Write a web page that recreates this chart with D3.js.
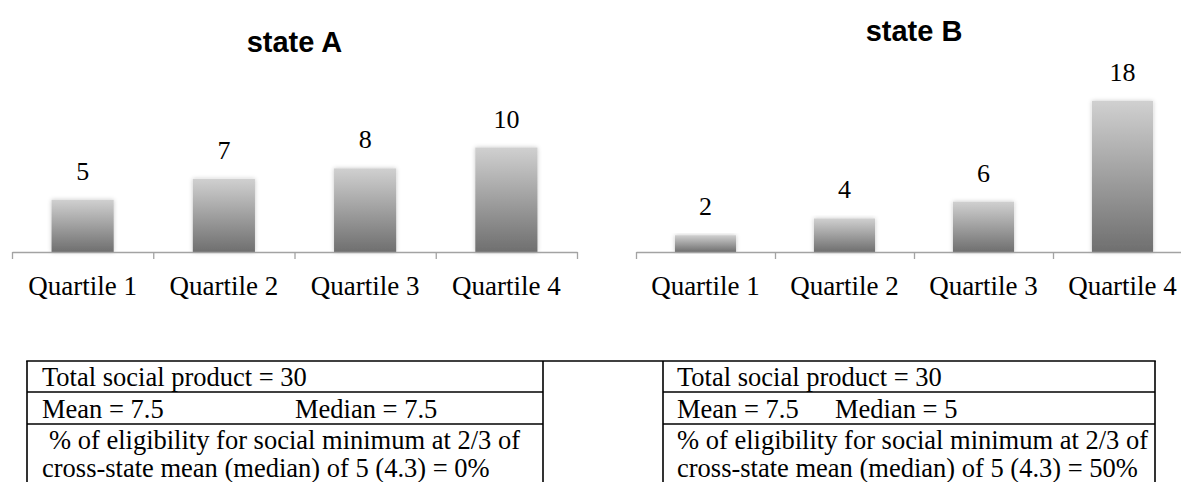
<!DOCTYPE html>
<html>
<head>
<meta charset="utf-8">
<script src="https://cdn.jsdelivr.net/npm/d3@7"></script>
<style>
  html, body { margin: 0; padding: 0; background: #fff; }
  svg { display: block; }
</style>
</head>
<body>
<svg id="chart" width="1181" height="482"></svg>
<script>
// ---- data ----
const categories = ["Quartile 1", "Quartile 2", "Quartile 3", "Quartile 4"];
const stateAValues = [5, 7, 8, 10];
const stateBValues = [2, 4, 6, 18];
const chartTitles = ["state A", "state B"];
const tableA = {
  total: "Total social product = 30",
  mean: "Mean = 7.5",
  median: "Median = 7.5",
  line1: "% of eligibility for social minimum at 2/3 of",
  line2: "cross-state mean (median) of 5 (4.3) = 0%"
};
const tableB = {
  total: "Total social product = 30",
  mean: "Mean = 7.5",
  median: "Median = 5",
  line1: "% of eligibility for social minimum at 2/3 of",
  line2: "cross-state mean (median) of 5 (4.3) = 50%"
};

const svg = d3.select("#chart");
const defs = svg.append("defs");
const grad = defs.append("linearGradient")
  .attr("id", "barGrad").attr("x1", 0).attr("y1", 0).attr("x2", 0).attr("y2", 1);
grad.append("stop").attr("offset", "0%").attr("stop-color", "#d0d0d0");
grad.append("stop").attr("offset", "100%").attr("stop-color", "#6f6f6f");
const filt = defs.append("filter").attr("id", "shadow")
  .attr("x", "-30%").attr("y", "-10%").attr("width", "160%").attr("height", "120%");
filt.append("feDropShadow").attr("dx", 0).attr("dy", 0).attr("stdDeviation", 2.2)
  .attr("flood-color", "#000").attr("flood-opacity", 0.22);

const serif = "Liberation Serif";
const sans = "Liberation Sans";
const baseY = 252;

function drawChart(values, xRange, yTop, yMax, title, titleY) {
  const x = d3.scaleBand().domain(categories).range(xRange)
    .paddingInner(0.56).paddingOuter(0.28);
  const y = d3.scaleLinear().domain([0, yMax]).range([baseY, yTop]);
  const g = svg.append("g");

  // bars
  g.selectAll("rect.bar").data(values).enter().append("rect")
    .attr("class", "bar")
    .attr("x", (d, i) => x(categories[i]))
    .attr("width", x.bandwidth())
    .attr("y", d => y(d))
    .attr("height", d => baseY - y(d))
    .attr("fill", "url(#barGrad)")
    .attr("filter", "url(#shadow)");

  // value labels
  g.selectAll("text.val").data(values).enter().append("text")
    .attr("class", "val")
    .attr("x", (d, i) => x(categories[i]) + x.bandwidth() / 2)
    .attr("y", d => y(d) - 20)
    .attr("text-anchor", "middle")
    .attr("font-family", serif).attr("font-size", 26).attr("fill", "#000")
    .text(d => d);

  // axis line with boundary ticks
  const idx = d3.scaleLinear().domain([0, categories.length]).range(xRange);
  const axisG = g.append("g").attr("transform", `translate(0,${baseY})`)
    .call(d3.axisBottom(idx).tickValues(d3.range(categories.length + 1))
      .tickSize(7).tickSizeOuter(0).tickFormat(""));
  axisG.select(".domain").attr("stroke", "#a3a3a3").attr("stroke-width", 1.6);
  axisG.selectAll(".tick line").attr("stroke", "#a3a3a3").attr("stroke-width", 1.3);

  // category labels
  const labG = g.append("g").attr("transform", `translate(0,${baseY})`)
    .call(d3.axisBottom(x).tickSize(0).tickPadding(0));
  labG.attr("font-family", serif).attr("font-size", 27);
  labG.select(".domain").remove();
  labG.selectAll(".tick text")
    .attr("y", 43).attr("dy", null)
    .attr("font-family", serif).attr("font-size", 27).attr("fill", "#000");

  // title
  g.append("text")
    .attr("x", (xRange[0] + xRange[1]) / 2)
    .attr("y", titleY)
    .attr("text-anchor", "middle")
    .attr("font-family", sans).attr("font-weight", "bold").attr("font-size", 29)
    .attr("fill", "#000")
    .text(title);
}

drawChart(stateAValues, [12, 577], 147.5, 10, chartTitles[0], 52);
drawChart(stateBValues, [636, 1192], 101, 18, chartTitles[1], 41);

// ---- table ----
const tg = svg.append("g");
const lineAttr = sel => sel.attr("stroke", "#000").attr("stroke-width", 1.6);
const L0 = 27, L1 = 543, R0 = 663, R1 = 1155, tTop = 361, r1 = 392, r2 = 424, tBot = 490;
lineAttr(tg.append("line").attr("x1", L0 - 0.8).attr("x2", R1 + 0.8).attr("y1", tTop).attr("y2", tTop));
[L0, L1, R0, R1].forEach(xv => lineAttr(tg.append("line").attr("x1", xv).attr("x2", xv).attr("y1", tTop).attr("y2", tBot)));
[[L0, L1], [R0, R1]].forEach(([a, b]) => {
  [r1, r2].forEach(yv => lineAttr(tg.append("line").attr("x1", a).attr("x2", b).attr("y1", yv).attr("y2", yv)));
});

function tableText(t, x0, medianX, firstIndent) {
  const items = [
    [t.total, x0, 386],
    [t.mean, x0, 418],
    [t.median, medianX, 418],
    [t.line1, x0 + firstIndent, 449],
    [t.line2, x0, 477]
  ];
  tg.selectAll(null).data(items).enter().append("text")
    .attr("x", d => d[1]).attr("y", d => d[2])
    .attr("font-family", serif).attr("font-size", 26.5).attr("fill", "#000")
    .text(d => d[0]);
}
tableText(tableA, 42, 295, 7);
tableText(tableB, 677, 835, 0);
</script>
</body>
</html>
